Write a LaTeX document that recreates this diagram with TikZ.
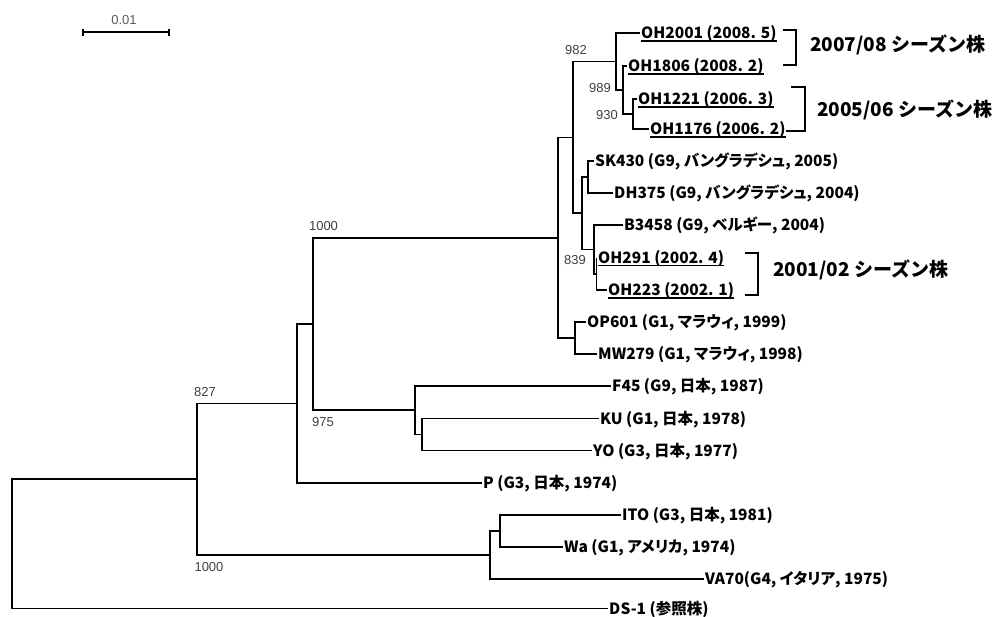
\documentclass[tikz,border=0pt]{standalone}
\usepackage{fontspec}
\setmainfont{Liberation Sans}
% proportional kana for the strain labels, plain metrics for the season labels
\newfontfamily\jpfont{Noto Sans CJK JP}[RawFeature=+palt]
\newfontfamily\jpwide{Noto Sans CJK JP}
\begin{document}
\begin{tikzpicture}[x=1pt,y=-1pt,
  branch/.style={line width=1.7pt},
  leaf/.style={font=\jpfont\bfseries\fontsize{15.5}{18}\selectfont, anchor=west,
               inner xsep=1.5pt, inner ysep=0pt, text height=11pt, text depth=0pt},
  boot/.style={font=\fontsize{13}{15}\selectfont, text=black!75, inner sep=0pt},
  season/.style={font=\jpwide\bfseries\fontsize{19}{22}\selectfont, anchor=west, inner sep=0pt},
  bracket/.style={line width=1.7pt},
  uline/.style={line width=1.3pt}]
\useasboundingbox (0,0) rectangle (995,616);

% ---- scale bar ----
\coordinate (s0) at (83,32);
\coordinate (s1) at (169,32);
\draw[line width=1.6pt] (s0) -- (s1);
\draw[line width=1.6pt] ([yshift=3.5pt]s0) -- ([yshift=-3.5pt]s0);
\draw[line width=1.6pt] ([yshift=3.5pt]s1) -- ([yshift=-3.5pt]s1);
\node[boot, text=black!65] (scale) at (124,20) {0.01};

% ---- internal nodes ----
\coordinate (R)  at (12,543.9);
\coordinate (Q)  at (197,479.25);
\coordinate (A)  at (297,403.5);
\coordinate (B)  at (313,324);
\coordinate (C)  at (415,410.25);
\coordinate (D)  at (422,434.5);
\coordinate (E)  at (490,555);
\coordinate (F)  at (500,531);
\coordinate (G)  at (558,237.7);
\coordinate (H2) at (573,137.35);
\coordinate (H)  at (616,61.5);
\coordinate (J)  at (623,90);
\coordinate (K)  at (633,114);
\coordinate (L)  at (582,213.2);
\coordinate (M)  at (588,177);
\coordinate (N)  at (594,249.4);
\coordinate (O)  at (596.5,273.75);
\coordinate (I)  at (575,338);

% ---- leaf labels ----
\node[leaf] (oh2001) at (639.5,33)    {OH2001 (2008. 5)};
\node[leaf] (oh1806) at (626.5,66)    {OH1806 (2008. 2)};
\node[leaf] (oh1221) at (636.5,99)    {OH1221 (2006. 3)};
\node[leaf] (oh1176) at (648.5,129)   {OH1176 (2006. 2)};
\node[leaf] (sk430)  at (593.5,161)   {SK430 (G9, バングラデシュ, 2005)};
\node[leaf] (dh375)  at (612.5,193)   {DH375 (G9, バングラデシュ, 2004)};
\node[leaf] (b3458)  at (622.5,225)   {B3458 (G9, ベルギー, 2004)};
\node[leaf] (oh291)  at (596.5,257.5) {OH291 (2002. 4)};
\node[leaf] (oh223)  at (606.5,290)   {OH223 (2002. 1)};
\node[leaf] (op601)  at (585.5,322)   {OP601 (G1, マラウィ, 1999)};
\node[leaf] (mw279)  at (596.5,354)   {MW279 (G1, マラウィ, 1998)};
\node[leaf] (f45)    at (610.5,386)   {F45 (G9, 日本, 1987)};
\node[leaf] (ku)     at (598.5,418.5) {KU (G1, 日本, 1978)};
\node[leaf] (yo)     at (591.5,450.5) {YO (G3, 日本, 1977)};
\node[leaf] (p)      at (481.5,483)   {P (G3, 日本, 1974)};
\node[leaf] (ito)    at (620.5,515)   {ITO (G3, 日本, 1981)};
\node[leaf] (wa)     at (562.5,547)   {Wa (G1, アメリカ, 1974)};
\node[leaf] (va70)   at (703.5,579)   {VA70(G4, イタリア, 1975)};
\node[leaf] (ds1)    at (607.5,608.5) {DS-1 (参照株)};

% ---- underlined strains ----
\foreach \n in {oh2001,oh1806,oh1221,oh1176,oh291,oh223}
  \draw[uline] ([xshift=1.5pt,yshift=-2.5pt]\n.base west) -- ([xshift=-1.5pt,yshift=-2.5pt]\n.base east);

% ---- branches ----
\begin{scope}[branch]
  \draw (R) |- (Q);   \draw (R) |- (ds1);
  \draw (Q) |- (A);   \draw (Q) |- (E);
  \draw (A) |- (B);   \draw (A) |- (p);
  \draw (B) |- (G);   \draw (B) |- (C);
  \draw (C) |- (f45); \draw (C) |- (D);
  \draw (D) |- (ku);  \draw (D) |- (yo);
  \draw (E) |- (F);   \draw (E) |- (va70);
  \draw (F) |- (ito); \draw (F) |- (wa);
  \draw (G) |- (H2);  \draw (G) |- (I);
  \draw (I) |- (op601); \draw (I) |- (mw279);
  \draw (H2) |- (H);  \draw (H2) |- (L);
  \draw (H) |- (oh2001); \draw (H) |- (J);
  \draw (J) |- (oh1806); \draw (J) |- (K);
  \draw (K) |- (oh1221); \draw (K) |- (oh1176);
  \draw (L) |- (M);   \draw (L) |- (N);
  \draw (M) |- (sk430); \draw (M) |- (dh375);
  \draw (N) |- (b3458); \draw (N) |- (O);
  \draw (O) |- (oh291); \draw (O) |- (oh223);
\end{scope}

% ---- bootstrap values ----
\node[boot] (bs982)  at (576,50)    {982};
\node[boot] (bs989)  at (600,88)    {989};
\node[boot] (bs930)  at (607,115)   {930};
\node[boot] (bs839)  at (575,260)   {839};
\node[boot] (bs1000a) at (323.5,226) {1000};
\node[boot] (bs827)  at (205,392)   {827};
\node[boot] (bs975)  at (323,422)   {975};
\node[boot] (bs1000b) at (209,567)  {1000};

% ---- season brackets ----
\coordinate (k1a) at (783,30);  \coordinate (k1b) at (783,65);
\draw[bracket] (k1a) -| (796,65) -- (k1b);
\node[season] (s0708) at (810,45) {2007/08 シーズン株};

\coordinate (k2a) at (791,87);  \coordinate (k2b) at (786,131);
\draw[bracket] (k2a) -| (805,131) -- (k2b);
\node[season] (s0506) at (817,110) {2005/06 シーズン株};

\coordinate (k3a) at (745,253); \coordinate (k3b) at (745,295);
\draw[bracket] (k3a) -| (758,295) -- (k3b);
\node[season] (s0102) at (773,270) {2001/02 シーズン株};
\end{tikzpicture}
\end{document}
